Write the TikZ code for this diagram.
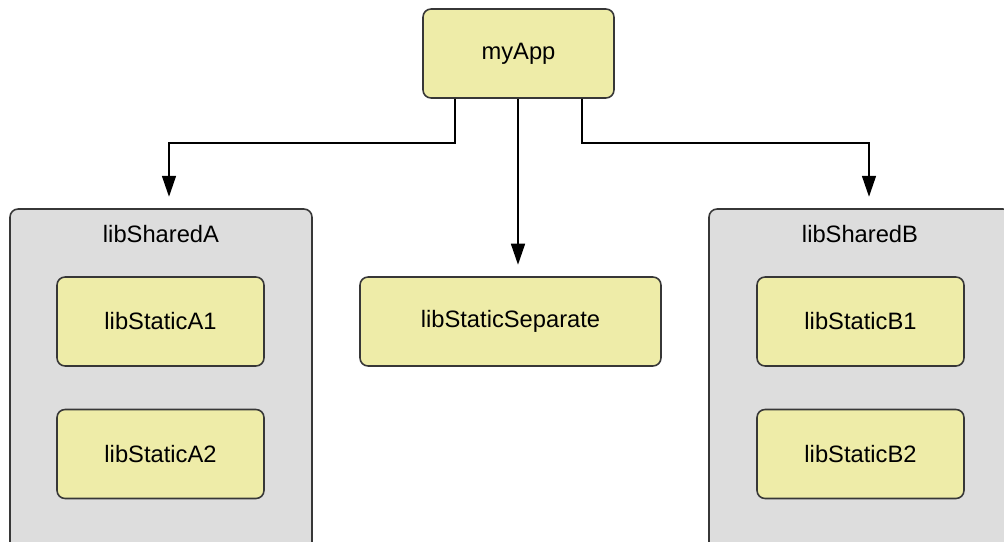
\documentclass[tikz,border=0pt]{standalone}
\usepackage{fontspec}
\setmainfont{Liberation Sans}
\usetikzlibrary{arrows.meta}
\definecolor{libyellow}{RGB}{238,236,168}
\definecolor{libgray}{RGB}{221,221,221}
\definecolor{libedge}{RGB}{55,55,55}
\tikzset{
  libbox/.style={draw=libedge,fill=libyellow,rounded corners=0.16cm,line width=0.9pt,
    minimum width=4.14cm,minimum height=1.78cm,text=black,font=\fontsize{13.5}{16}\selectfont},
  sharedbox/.style={draw=libedge,fill=libgray,rounded corners=0.16cm,line width=0.9pt,
    minimum width=6.04cm,minimum height=7.2cm},
  link/.style={->,line width=0.9pt,shorten >=0.23cm}
}
\begin{document}
\begin{tikzpicture}[x=0.02cm,y=-0.02cm,>={Triangle[length=0.42cm,width=0.28cm]}]
\useasboundingbox (0,0) rectangle (1004,541);

\node[sharedbox] (libSharedA) at (161,389) {};
\node[sharedbox] (libSharedB) at (860,389) {};
\node[text=black,font=\fontsize{13.5}{16}\selectfont] (labelA) at (161,234) {libSharedA};
\node[text=black,font=\fontsize{13.5}{16}\selectfont] (labelB) at (860,234) {libSharedB};

\node[libbox,minimum width=3.82cm] (myApp) at (518.5,53.5) {myApp};
\node[libbox] (libStaticA1) at (160.5,321.5) {libStaticA1};
\node[libbox] (libStaticA2) at (160.5,454) {libStaticA2};
\node[libbox,minimum width=6.02cm] (libStaticSeparate) at (510.5,321.5) {libStaticSeparate};
\node[libbox] (libStaticB1) at (860.5,321.5) {libStaticB1};
\node[libbox] (libStaticB2) at (860.5,454) {libStaticB2};

\draw[link] ([xshift=-1.27cm]myApp.south) |- (169,143) -- ([xshift=0.16cm]libSharedA.north);
\draw[link] ([xshift=-0.01cm]myApp.south) -- ([xshift=-0.01cm]myApp.south |- libStaticSeparate.north);
\draw[link] ([xshift=1.27cm]myApp.south) |- (869,143) -- ([xshift=0.18cm]libSharedB.north);
\end{tikzpicture}
\end{document}
